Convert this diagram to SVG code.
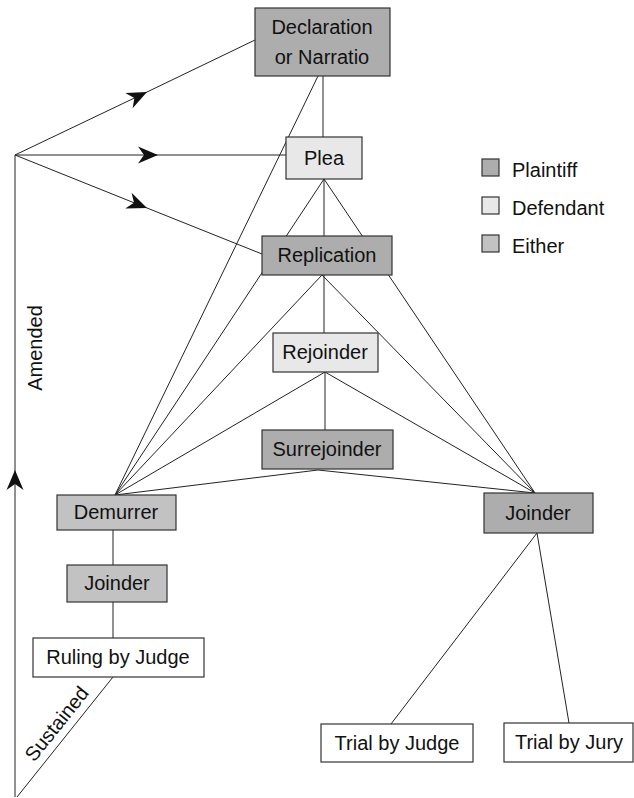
<svg xmlns="http://www.w3.org/2000/svg" width="634" height="798" viewBox="0 0 634 798">
<style>
.box{stroke:#333;stroke-width:1.2}
.pl{fill:#adadad}
.df{fill:#e8e8e8}
.ei{fill:#c2c2c2}
.wh{fill:#ffffff}
text{font-family:"Liberation Sans",Arial,sans-serif;font-size:20px;fill:#111}
.c{text-anchor:middle}
.ln{stroke:#222;stroke-width:1;fill:none}
</style>
<defs>
<marker id="ah" viewBox="-22 -10 24 20" markerWidth="24" markerHeight="20" refX="0" refY="0" orient="auto" markerUnits="userSpaceOnUse">
<path d="M0,0 L-20,-8.5 L-14,0 L-20,8.5 z" fill="#111"/>
</marker>
</defs>
<rect width="634" height="798" fill="#fff"/>
<g id="connectors" class="ln">
<line x1="323" y1="76" x2="323" y2="137"/>
<line x1="318" y1="76" x2="115" y2="495"/>
<line x1="324" y1="179" x2="324" y2="236"/>
<line x1="324" y1="179" x2="115" y2="495"/>
<line x1="324" y1="179" x2="535" y2="493"/>
<line x1="324" y1="275" x2="324" y2="333"/>
<line x1="322" y1="275" x2="115" y2="495"/>
<line x1="322" y1="275" x2="535" y2="493"/>
<line x1="325" y1="372" x2="325" y2="430"/>
<line x1="325" y1="372" x2="115" y2="495"/>
<line x1="325" y1="372" x2="535" y2="493"/>
<line x1="318" y1="470" x2="115" y2="495"/>
<line x1="318" y1="470" x2="535" y2="493"/>
<line x1="113" y1="530" x2="113" y2="565"/>
<line x1="113" y1="602" x2="113" y2="638"/>
<line x1="537" y1="533" x2="391" y2="724"/>
<line x1="537" y1="533" x2="569" y2="723"/>
<line x1="113" y1="677" x2="17" y2="797"/>
<path d="M15,797 L15,470 L15,155" marker-mid="url(#ah)"/>
<path d="M15,155 L147,92 L255,40" marker-mid="url(#ah)"/>
<path d="M15,155 L158,155 L286,155" marker-mid="url(#ah)"/>
<path d="M15,155 L147,208 L262,254" marker-mid="url(#ah)"/>
</g>
<text transform="translate(42,348) rotate(-90)" class="c">Amended</text>
<text transform="translate(62,728) rotate(-51.3)" class="c">Sustained</text>
<g id="declaration"><rect class="box pl" x="255" y="8" width="135" height="68"/><text x="322" y="34" class="c">Declaration</text><text x="322" y="64" class="c">or Narratio</text></g>
<g id="plea"><rect class="box df" x="286" y="137" width="76" height="42"/><text x="324" y="165" class="c">Plea</text></g>
<g id="replication"><rect class="box pl" x="262" y="236" width="130" height="39"/><text x="327" y="262" class="c">Replication</text></g>
<g id="rejoinder"><rect class="box df" x="273" y="333" width="105" height="39"/><text x="325" y="359" class="c">Rejoinder</text></g>
<g id="surrejoinder"><rect class="box pl" x="262" y="430" width="131" height="39"/><text x="327" y="456" class="c">Surrejoinder</text></g>
<g id="demurrer"><rect class="box ei" x="57" y="495" width="119" height="35"/><text x="116" y="519" class="c">Demurrer</text></g>
<g id="joinder-left"><rect class="box ei" x="67" y="565" width="100" height="37"/><text x="117" y="590" class="c">Joinder</text></g>
<g id="ruling"><rect class="box wh" x="33" y="638" width="171" height="39"/><text x="118" y="664" class="c">Ruling by Judge</text></g>
<g id="joinder-right"><rect class="box pl" x="484" y="493" width="109" height="40"/><text x="538" y="520" class="c">Joinder</text></g>
<g id="trial-judge"><rect class="box wh" x="321" y="724" width="152" height="38"/><text x="397" y="750" class="c">Trial by Judge</text></g>
<g id="trial-jury"><rect class="box wh" x="504" y="723" width="129" height="39"/><text x="569" y="749" class="c">Trial by Jury</text></g>
<g id="legend">
<rect class="box pl" x="482" y="159" width="17" height="17"/><text x="512" y="177">Plaintiff</text>
<rect class="box df" x="482" y="197" width="17" height="17"/><text x="512" y="215">Defendant</text>
<rect class="box ei" x="482" y="235" width="17" height="17"/><text x="512" y="253">Either</text>
</g>
</svg>
